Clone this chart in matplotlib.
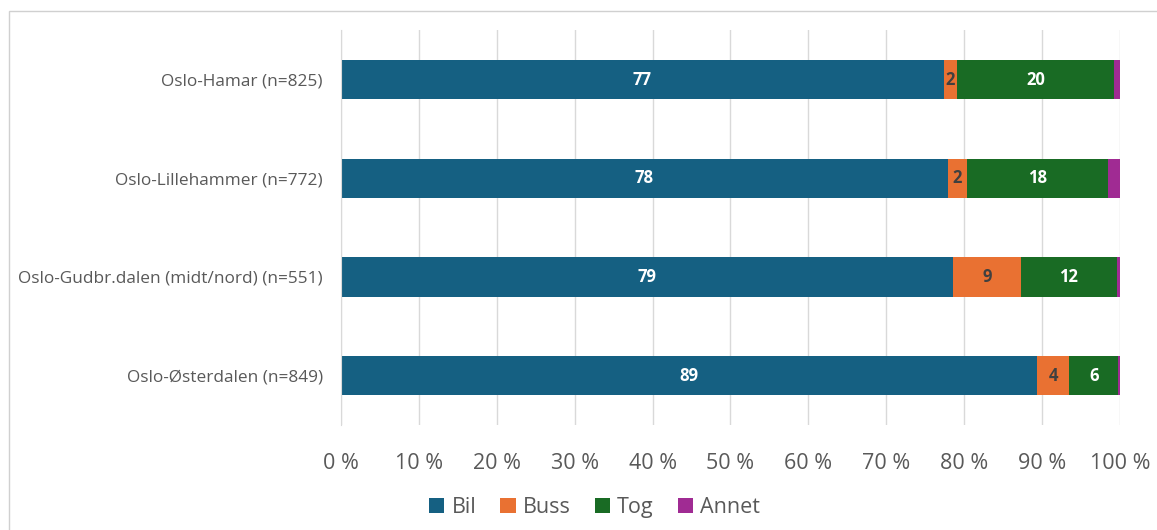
import matplotlib.pyplot as plt
from matplotlib.patches import Rectangle
from matplotlib.ticker import FuncFormatter

plt.rcParams['font.family'] = ['Open Sans', 'DejaVu Sans']

routes = ['Oslo-Hamar (n=825)', 'Oslo-Lillehammer (n=772)',
          'Oslo-Gudbr.dalen (midt/nord) (n=551)', 'Oslo-Østerdalen (n=849)']
modes = ['Bil', 'Buss', 'Tog', 'Annet']
bil = [77.4, 77.9, 78.6, 89.4]
buss = [1.7, 2.4, 8.7, 4.1]
tog = [20.1, 18.2, 12.3, 6.3]
annet = [0.8, 1.5, 0.4, 0.2]

colors = ['#156082', '#E97132', '#196B24', '#A02B93']
label_colors = ['white', '#404040', 'white', None]

fig = plt.figure(figsize=(11.57, 5.30), dpi=100)
ax = fig.add_axes([0.2947, 0.198, 0.6733, 0.745])

# outer frame
fig.patches.append(Rectangle((0.008, -0.1), 1.1, 1.079, transform=fig.transFigure,
                             fill=False, edgecolor='#d0d0d0', linewidth=1.0))

ypos = list(range(len(routes)))
left = [0.0] * len(routes)
for series, color, lc, name in zip([bil, buss, tog, annet], colors, label_colors, modes):
    bars = ax.barh(ypos, series, left=left, height=0.4, color=color, label=name)
    if lc is not None:
        for b, v in zip(bars, series):
            ax.text(b.get_x() + b.get_width() / 2, b.get_y() + b.get_height() / 2,
                    f'{v:.0f}', ha='center', va='center', color=lc,
                    fontsize=12, fontweight='bold')
    left = [l + v for l, v in zip(left, series)]

ax.set_xlim(0, 100)
ax.set_ylim(len(routes) - 0.5, -0.5)
ax.set_yticks(ypos)
ax.set_yticklabels(routes, fontsize=12.4, color='#595959')
ax.set_xticks(range(0, 101, 10))
ax.xaxis.set_major_formatter(FuncFormatter(lambda v, p: f'{v:.0f} %'))
ax.tick_params(axis='x', labelsize=15.5, labelcolor='#595959', length=0, pad=20)
ax.tick_params(axis='y', length=0, pad=13)
ax.grid(axis='x', color='#d9d9d9', linewidth=1)
ax.set_axisbelow(True)
for s in ['top', 'right', 'bottom']:
    ax.spines[s].set_visible(False)
ax.spines['left'].set_color('#d9d9d9')

leg = fig.legend(loc='center', bbox_to_anchor=(0.514, 0.042), ncol=4, frameon=False,
                 fontsize=15.5, handlelength=0.7, handleheight=0.7,
                 handletextpad=0.35, columnspacing=1.1)
for t in leg.get_texts():
    t.set_color('#595959')

fig.savefig('out.png', dpi=100)
